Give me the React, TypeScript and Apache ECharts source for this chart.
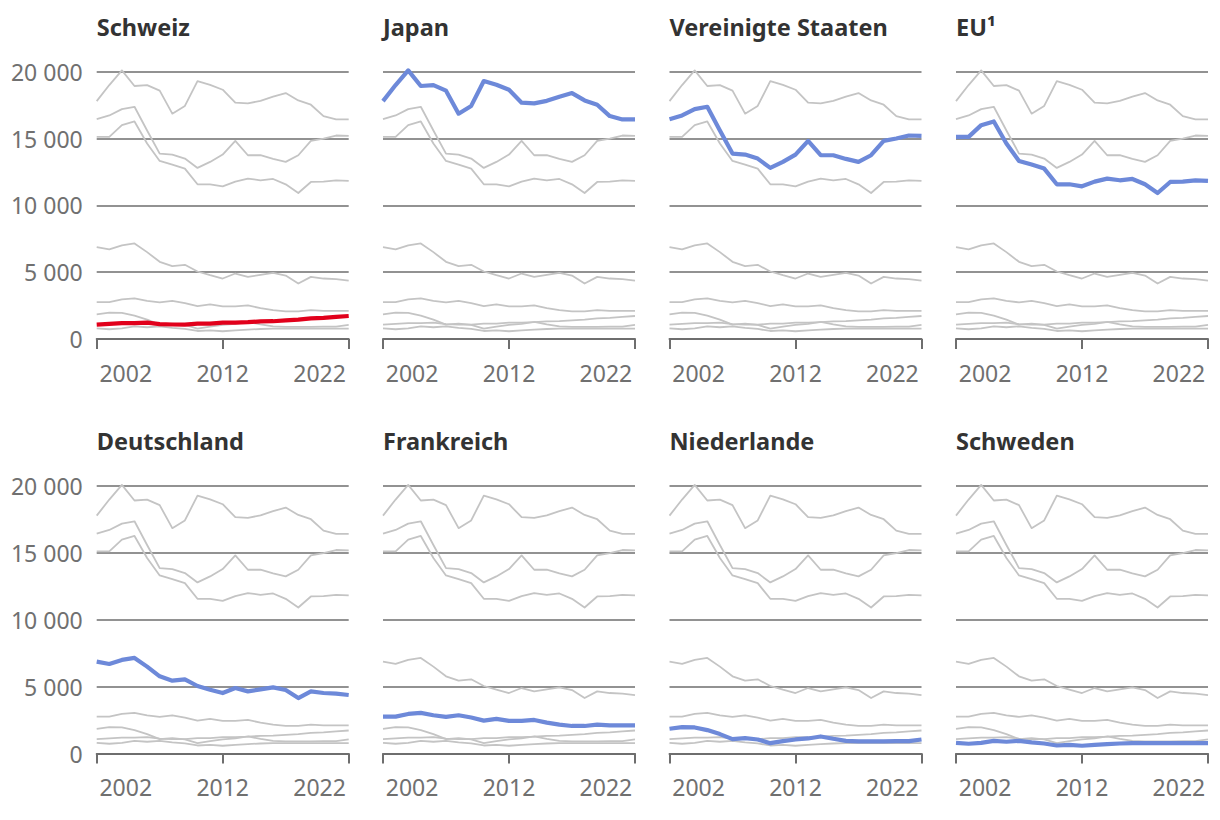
import React, { useEffect, useRef } from "react";
import * as echarts from "echarts";

// Countries (panel order)
const countries = [
  "Schweiz",
  "Japan",
  "Vereinigte Staaten",
  "EU¹",
  "Deutschland",
  "Frankreich",
  "Niederlande",
  "Schweden",
];

// x positions of the 21 observations on the 1999–2025 axis
const periods = [
  1999, 2000.3, 2001.6, 2002.9, 2004.2, 2005.5, 2006.8, 2008.1, 2009.4, 2010.7,
  2012, 2013.3, 2014.6, 2015.9, 2017.2, 2018.5, 2019.8, 2021.1, 2022.4, 2023.7, 2025,
];

const schweiz = [1070, 1130, 1190, 1190, 1230, 1110, 1085, 1070, 1145, 1150, 1220, 1230, 1260, 1320, 1330, 1400, 1450, 1540, 1580, 1650, 1720];
const japan = [17800, 19000, 20100, 18930, 19000, 18580, 16860, 17440, 19300, 19020, 18650, 17680, 17630, 17820, 18130, 18400, 17850, 17530, 16680, 16430, 16430];
const usa = [16450, 16725, 17200, 17375, 15600, 13875, 13800, 13500, 12800, 13250, 13800, 14825, 13750, 13750, 13475, 13250, 13750, 14825, 15000, 15225, 15200];
const eu = [15125, 15125, 16000, 16275, 14625, 13325, 13050, 12750, 11575, 11575, 11425, 11775, 12000, 11875, 11975, 11575, 10925, 11750, 11775, 11875, 11825];
const deutschland = [6875, 6700, 7000, 7150, 6500, 5775, 5450, 5550, 5050, 4775, 4525, 4900, 4650, 4800, 4950, 4750, 4150, 4650, 4525, 4475, 4375];
const frankreich = [2760, 2760, 2960, 3040, 2860, 2740, 2860, 2690, 2460, 2590, 2440, 2440, 2510, 2310, 2160, 2060, 2060, 2160, 2110, 2110, 2110];
const niederlande = [1850, 1975, 1950, 1750, 1450, 1075, 1150, 1050, 775, 925, 1050, 1125, 1275, 1100, 950, 900, 900, 900, 925, 925, 1050];
const schweden = [800, 730, 800, 950, 880, 950, 830, 750, 600, 650, 580, 650, 700, 750, 780, 780, 780, 780, 780, 780, 780];

const seriesValues = [schweiz, japan, usa, eu, deutschland, frankreich, niederlande, schweden];

// Axis ticks and labels
const yTicks = [0, 5000, 10000, 15000, 20000];
const xTickYears = [1999, 2012, 2025];
const xLabelYears = [2002, 2012, 2022];

const GRAY = "#c4c4c4";
const BLUE = "#6d89d9";
const RED = "#e1001b";
const AXIS = "#6e6e6e";
const LABEL = "#707070";
const FONT = "Noto Sans";

const colLefts = [96.7, 383, 669.5, 956];
const rowTops = [71.7, 486.2];
const GRID_W = 252;
const GRID_H = 267.3;

function fmt(v: number) {
  return String(v).replace(/\B(?=(\d{3})+(?!\d))/g, " ");
}

export default function App() {
  const ref = useRef<HTMLDivElement>(null);

  useEffect(() => {
    document.body.style.margin = "0";
    if (!ref.current) return;
    const chart = echarts.init(ref.current, null, { renderer: "svg" });

    const grids: any[] = [];
    const xAxes: any[] = [];
    const yAxes: any[] = [];
    const titles: any[] = [];
    const series: any[] = [];

    countries.forEach((name, p) => {
      const col = p % 4;
      const row = Math.floor(p / 4);
      grids.push({
        left: colLefts[col],
        top: rowTops[row],
        width: GRID_W,
        height: GRID_H,
        containLabel: false,
      });
      titles.push({
        text: name,
        left: colLefts[col],
        top: rowTops[row] - 57,
        padding: 0,
        textStyle: { fontFamily: FONT, fontSize: 23.5, fontWeight: "bold", color: "#333333" },
      });
      xAxes.push({
        type: "value",
        gridIndex: p,
        min: xTickYears[0],
        max: xTickYears[xTickYears.length - 1],
        splitLine: { show: false },
        axisLine: { show: true, lineStyle: { color: AXIS, width: 2 } },
        axisTick: {
          show: true,
          customValues: xTickYears,
          length: 10,
          lineStyle: { color: AXIS, width: 2 },
        },
        axisLabel: {
          show: true,
          customValues: xLabelYears,
          margin: 22,
          color: LABEL,
          fontFamily: FONT,
          fontSize: 23,
          formatter: (v: number) => String(Math.round(v)),
        },
      });
      yAxes.push({
        type: "value",
        gridIndex: p,
        min: yTicks[0],
        max: yTicks[yTicks.length - 1],
        interval: 5000,
        axisLine: { show: false },
        axisTick: { show: false },
        splitLine: { show: true, lineStyle: { color: AXIS, width: 1.5 } },
        axisLabel: {
          show: col === 0,
          margin: 14,
          color: LABEL,
          fontFamily: FONT,
          fontSize: 23,
          formatter: (v: number) => fmt(v),
        },
      });
      seriesValues.forEach((vals, s) => {
        const hl = s === p;
        series.push({
          type: "line",
          name: countries[s],
          xAxisIndex: p,
          yAxisIndex: p,
          data: vals.map((v, i) => [periods[i], v]),
          symbol: "none",
          silent: true,
          clip: false,
          z: hl ? 5 : 3,
          lineStyle: {
            color: hl ? (p === 0 ? RED : BLUE) : GRAY,
            width: hl ? 4.2 : 1.8,
            join: "round",
          },
          itemStyle: { color: hl ? (p === 0 ? RED : BLUE) : GRAY },
        });
      });
    });

    chart.setOption({
      animation: false,
      backgroundColor: "#ffffff",
      title: titles,
      grid: grids,
      xAxis: xAxes,
      yAxis: yAxes,
      series,
    });

    return () => chart.dispose();
  }, []);

  return <div ref={ref} style={{ width: 1220, height: 820 }} />;
}
